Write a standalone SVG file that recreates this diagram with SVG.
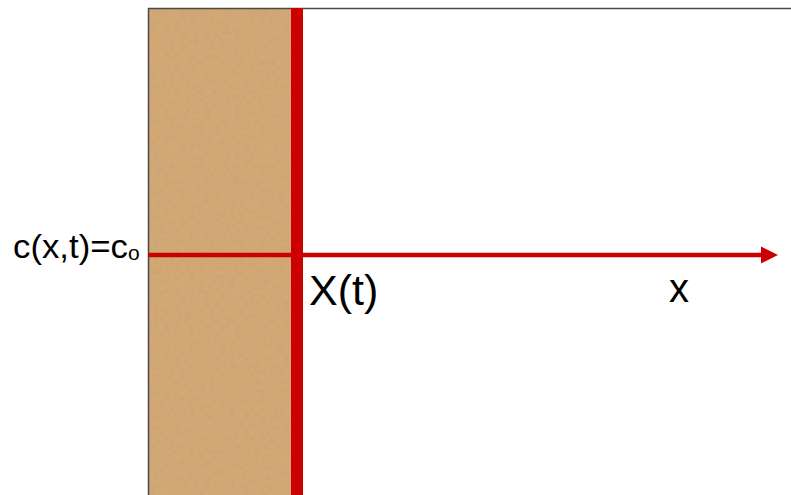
<svg xmlns="http://www.w3.org/2000/svg" width="791" height="495" viewBox="0 0 791 495">
  <defs>
    <style>
      .lbl { font-family: "Liberation Sans", Arial, sans-serif; fill: #000; }
      .red { fill: #CC0000; }
    </style>
    <filter id="grain" x="0" y="0" width="100%" height="100%">
      <feTurbulence type="fractalNoise" baseFrequency="0.2" numOctaves="3" seed="7" result="n"/>
      <feColorMatrix in="n" type="matrix" values="0 0 0 0 0.58  0 0 0 0 0.38  0 0 0 0 0.18  3.0 0 0 0 -1.2" result="spk"/>
      <feComposite in="spk" in2="SourceGraphic" operator="in"/>
    </filter>
  </defs>
  <rect width="791" height="495" fill="#fff"/>
  <g id="solid">
    <rect x="148" y="8" width="145" height="487" fill="#D3A874"/>
    <rect x="148" y="8" width="145" height="487" fill="#D3A874" filter="url(#grain)" opacity="0.8"/>
  </g>
  <g id="frame">
    <line x1="148" y1="8.5" x2="791" y2="8.5" stroke="#4a4a4a" stroke-width="1.5"/>
    <line x1="148.5" y1="8" x2="148.5" y2="495" stroke="#4a4a4a" stroke-width="1.5"/>
  </g>
  <g id="interface">
    <rect class="red" x="291" y="8" width="12" height="487"/>
  </g>
  <g id="connectors">
    <line x1="148" y1="255" x2="764" y2="255" stroke="#CC0000" stroke-width="4.5"/>
    <polygon class="red" points="761,246.5 778,255 761,263.5"/>
  </g>
  <g id="labels">
    <text class="lbl" x="13" y="258" font-size="33" textLength="115" lengthAdjust="spacingAndGlyphs">c(x,t)=c</text>
    <text class="lbl" x="128" y="260" font-size="21">o</text>
    <text class="lbl" x="309" y="305" font-size="43">X(t)</text>
    <text class="lbl" x="669" y="302" font-size="40">x</text>
  </g>
</svg>
